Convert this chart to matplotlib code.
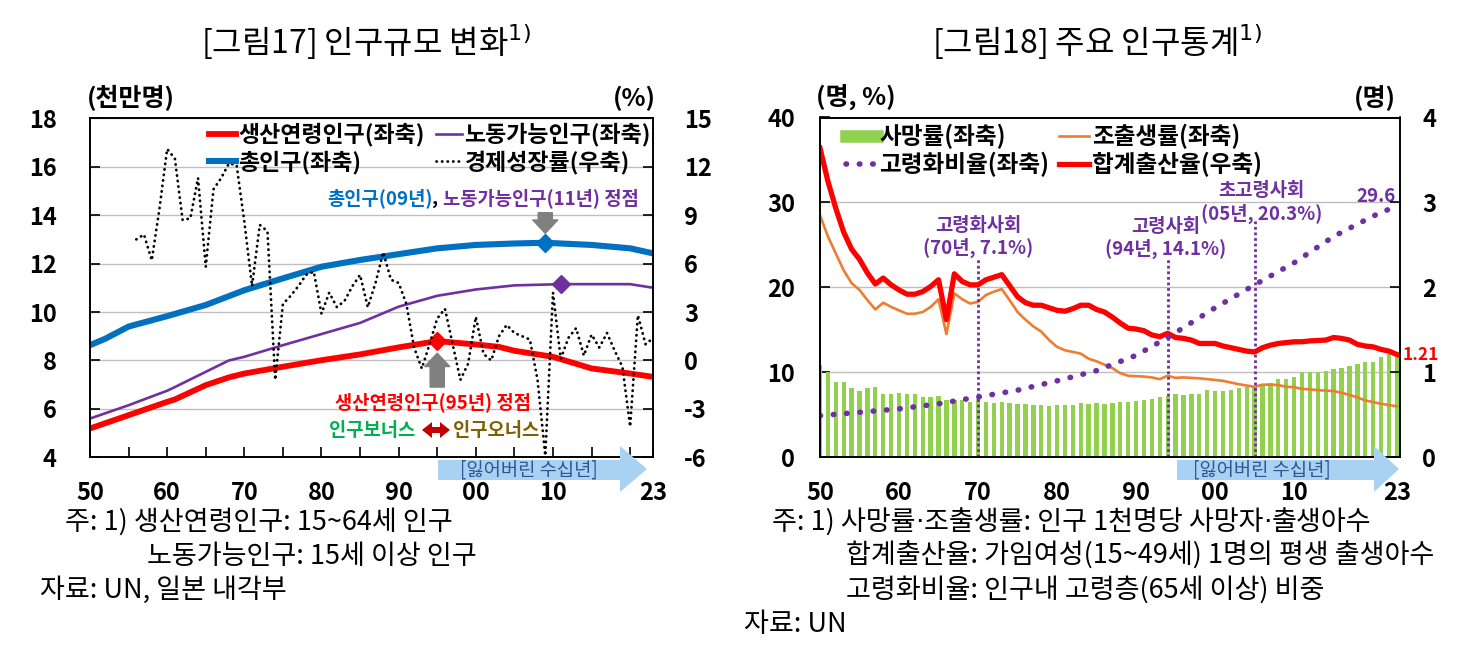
import numpy as np
import matplotlib
matplotlib.use("Agg")
import matplotlib.pyplot as plt
from matplotlib.lines import Line2D
from matplotlib.patches import Polygon

plt.rcParams['font.family'] = ['Noto Sans CJK KR', 'DejaVu Sans']
plt.rcParams['axes.unicode_minus'] = False

# ---------------- [그림17] 인구규모 변화 ----------------
total_years = [1950, 1952, 1955, 1960, 1965, 1970, 1975, 1980, 1985, 1990, 1995, 2000, 2005, 2009, 2015, 2020, 2023]
total_pop = [8.63, 8.9, 9.4, 9.83, 10.29, 10.9, 11.39, 11.87, 12.15, 12.39, 12.63, 12.77, 12.83, 12.86, 12.77, 12.63, 12.42]

labor_years = [1950, 1955, 1960, 1961, 1965, 1968, 1970, 1975, 1980, 1985, 1990, 1995, 2000, 2005, 2011, 2015, 2020, 2023]
labor_pop = [5.6, 6.15, 6.75, 6.9, 7.53, 8.0, 8.15, 8.63, 9.09, 9.55, 10.22, 10.67, 10.93, 11.1, 11.15, 11.15, 11.15, 11.0]

work_years = [1950, 1955, 1960, 1961, 1965, 1968, 1970, 1975, 1980, 1985, 1990, 1995, 2000, 2003, 2005, 2010, 2015, 2020, 2023]
work_pop = [5.19, 5.74, 6.29, 6.39, 6.98, 7.3, 7.46, 7.74, 8.01, 8.25, 8.54, 8.8, 8.66, 8.56, 8.4, 8.15, 7.67, 7.46, 7.32]

gdp_years = list(range(1956, 2024))
gdp_growth = [7.5, 7.8, 6.2, 9.4, 13.1, 12.5, 8.7, 8.8, 11.3, 5.8,
              10.6, 11.3, 12.2, 12.1, 8.6, 4.6, 8.4, 8.0, -1.2, 3.5,
              4.0, 4.6, 5.3, 5.5, 2.9, 4.2, 3.3, 3.7, 4.6, 5.3,
              3.3, 4.8, 6.7, 5.0, 4.8, 3.5, 0.8, -0.5, 1.0, 2.6,
              3.2, 1.0, -1.2, -0.2, 2.7, 0.4, 0.0, 1.5, 2.2, 1.7,
              1.5, 1.3, -1.2, -5.9, 4.2, 0.1, 1.4, 2.0, 0.3, 1.6,
              0.8, 1.7, 0.6, -0.4, -4.1, 2.8, 1.0, 1.4]

# ---------------- [그림18] 주요 인구통계 ----------------
years = list(range(1950, 2024))
death_rate = [10.9, 10.0, 8.9, 8.9, 8.2, 7.8, 8.1, 8.3, 7.5, 7.5,
              7.6, 7.5, 7.5, 7.05, 7.05, 7.2, 6.7, 6.8, 6.8, 6.5,
              6.9, 6.55, 6.4, 6.5, 6.4, 6.3, 6.3, 6.1, 6.1, 6.0,
              6.2, 6.15, 6.1, 6.35, 6.3, 6.35, 6.3, 6.35, 6.5, 6.5,
              6.6, 6.7, 6.9, 7.1, 7.2, 7.4, 7.3, 7.4, 7.5, 7.9,
              7.85, 7.85, 7.9, 8.1, 8.25, 8.4, 8.6, 8.8, 9.2, 9.2,
              9.5, 10.0, 10.0, 10.1, 10.2, 10.4, 10.5, 10.8, 11.0, 11.2,
              11.2, 11.8, 12.2, 12.4]
birth_rate = [28.5, 26.0, 24.0, 22.0, 20.5, 19.7, 18.5, 17.4, 18.2, 17.7,
              17.3, 16.9, 16.9, 17.1, 17.7, 18.6, 14.5, 19.3, 18.6, 18.1,
              18.3, 19.1, 19.5, 19.8, 18.5, 17.1, 16.2, 15.4, 14.8, 13.8,
              13.0, 12.6, 12.4, 12.2, 11.6, 11.3, 10.9, 10.5, 9.9, 9.6,
              9.55, 9.5, 9.4, 9.2, 9.6, 9.35, 9.4, 9.35, 9.3, 9.2,
              9.1, 9.0, 8.8, 8.6, 8.45, 8.3, 8.55, 8.55, 8.5, 8.3,
              8.25, 8.05, 8.0, 7.9, 7.85, 7.8, 7.6, 7.35, 7.05, 6.7,
              6.5, 6.3, 6.15, 6.0]
tfr = [3.64, 3.25, 2.93, 2.65, 2.45, 2.33, 2.17, 2.04, 2.11, 2.03,
       1.97, 1.92, 1.92, 1.95, 2.01, 2.09, 1.62, 2.16, 2.07, 2.03,
       2.03, 2.09, 2.12, 2.15, 2.02, 1.89, 1.82, 1.79, 1.79, 1.76,
       1.73, 1.72, 1.75, 1.79, 1.79, 1.74, 1.71, 1.65, 1.58, 1.52,
       1.51, 1.49, 1.44, 1.42, 1.46, 1.41, 1.40, 1.38, 1.34, 1.34,
       1.34, 1.31, 1.29, 1.27, 1.25, 1.24, 1.29, 1.32, 1.34, 1.35,
       1.36, 1.36, 1.37, 1.375, 1.38, 1.41, 1.40, 1.38, 1.33, 1.31,
       1.30, 1.27, 1.25, 1.21]
aging_years = [1950, 1955, 1960, 1965, 1970, 1975, 1980, 1985, 1990, 1994, 2000, 2005, 2010, 2015, 2020, 2023]
aging_ratio = [4.9, 5.3, 5.7, 6.3, 7.1, 7.9, 9.0, 10.2, 12.0, 14.1, 17.6, 20.3, 22.9, 26.0, 28.4, 29.6]

xtick_years = [1950, 1960, 1970, 1980, 1990, 2000, 2010, 2023]
xtick_labels = ['50', '60', '70', '80', '90', '00', '10', '23']

RED = '#ff0000'
BLUE = '#0070c0'
PURPLE = '#7030a0'
ORANGE = '#ed7d31'
GREEN = '#92d050'
GRID = '#bfbfbf'
ARROW_BLUE = '#a9d1f1'

W, H = 1471, 666


def fx(x):
    return x / W


def fy(y):
    return 1 - y / H


def px_poly(pts, color):
    return Polygon([(fx(px), fy(py)) for px, py in pts], closed=True,
                   transform=fig.transFigure, facecolor=color, edgecolor='none', zorder=5)


def chain_text(ax, x, y, parts, **kw):
    # first piece at pixel position, following pieces glued to the right
    t = fig.text(fx(x), fy(y), parts[0][0], va='center', **parts[0][1], **kw)
    for s, extra in parts[1:]:
        t = ax.annotate(s, xy=(1, 0), xycoords=t, va='bottom', annotation_clip=False,
                        **extra, **kw)
    return t


def style_axes(ax, ax_r):
    ax.set_xticks(xtick_years)
    ax.set_xticklabels(xtick_labels)
    ax.set_xticks([y for y in range(1955, 2023, 5) if y not in xtick_years], minor=True)
    ax.tick_params(axis='x', which='both', direction='in', length=7, width=1.2, pad=17,
                   labelsize=17, top=False)
    ax.tick_params(axis='y', direction='in', length=7, width=1.2, labelsize=17)
    ax_r.tick_params(axis='y', direction='in', length=7, width=1.2, labelsize=17)
    for a in (ax, ax_r):
        for lab in a.get_xticklabels() + a.get_yticklabels():
            lab.set_fontweight('bold')
        for sp in a.spines.values():
            sp.set_linewidth(1.2)
    ax.grid(axis='y', color=GRID, lw=1)
    ax.set_axisbelow(True)


fig = plt.figure(figsize=(14.71, 6.66), dpi=100)

# ======== left chart ========
ax1 = fig.add_axes([fx(90), fy(457.3), (653.3 - 90) / W, (457.3 - 118.3) / H])
ax1r = ax1.twinx()

ax1.plot(work_years, work_pop, color=RED, lw=4.2, solid_capstyle='butt')
ax1.plot(labor_years, labor_pop, color=PURPLE, lw=1.9)
ax1.plot(total_years, total_pop, color=BLUE, lw=4.4, solid_capstyle='butt')
ax1r.plot(gdp_years, gdp_growth, color='black', lw=2.0,
          linestyle=(0, (0.1, 1.9)), dash_capstyle='round')

i_t = int(np.argmax(total_pop))
i_l = int(np.argmax(labor_pop))
i_w = int(np.argmax(work_pop))
ax1.plot(total_years[i_t], total_pop[i_t], marker='D', ms=9, color=BLUE)
ax1.plot(labor_years[i_l], labor_pop[i_l], marker='D', ms=9, color=PURPLE)
ax1.plot(work_years[i_w], work_pop[i_w], marker='D', ms=9, color=RED)

ax1.set_xlim(1950, 2023)
ax1.set_ylim(4, 18)
ax1.set_yticks(range(4, 19, 2))
ax1r.set_ylim(-6, 15)
ax1r.set_yticks(range(-6, 16, 3))
style_axes(ax1, ax1r)
ax1.tick_params(axis='y', pad=24)
ax1r.tick_params(axis='y', pad=22)

arrow_gray = dict(arrowstyle='simple,head_length=0.8,head_width=1.5,tail_width=0.85',
                  color='#808080', shrinkA=0, shrinkB=0, mutation_scale=12)
ax1.annotate('', xy=(total_years[i_t], 13.25), xytext=(total_years[i_t], 14.1), arrowprops=arrow_gray)
ax1.annotate('', xy=(work_years[i_w], 8.3), xytext=(work_years[i_w], 6.9), arrowprops=arrow_gray)

bold = dict(fontsize=13.5, fontweight='bold')
chain_text(ax1, 327, 198, [('총인구(09년)', dict(color=BLUE)),
                           (', ', dict(color='black')),
                           ('노동가능인구(11년) 정점', dict(color=PURPLE))], **bold)

ax1.text(1994.4, 6.28, '생산연령인구(95년) 정점', color=RED, ha='center', va='center', **bold)
ax1.text(1992.2, 5.12, '인구보너스', color='#00b050', ha='right', va='center', **bold)
ax1.text(1997.0, 5.12, '인구오너스', color='#7f6000', ha='left', va='center', **bold)
# double-headed block arrow between the two words
fig.add_artist(px_poly([(422, 430), (432, 422), (432, 427), (440, 427), (440, 422),
                        (450, 430), (440, 438), (440, 433), (432, 433), (432, 438)],
                       '#c00000'))

h_left = [Line2D([], [], color=RED, lw=4.2),
          Line2D([], [], color=BLUE, lw=4.4),
          Line2D([], [], color=PURPLE, lw=1.9),
          Line2D([], [], color='black', lw=2.0, linestyle=(0, (0.1, 1.9)), dash_capstyle='round')]
l_left = ['생산연령인구(좌축)', '총인구(좌축)', '노동가능인구(좌축)', '경제성장률(우축)']
ax1r.legend(h_left, l_left, ncol=2, loc='upper right', frameon=False,
            bbox_to_anchor=(fx(651), fy(123)), bbox_transform=fig.transFigure,
            borderaxespad=0, borderpad=0, handlelength=1.15, handletextpad=0.1,
            columnspacing=0.5, labelspacing=0.15,
            prop={'size': 16.5, 'weight': 'bold'})

fig.text(fx(87), fy(98), '(천만명)', fontsize=18, fontweight='bold', va='center', ha='left')
fig.text(fx(656), fy(98), '(%)', fontsize=18, fontweight='bold', va='center', ha='right')
fig.text(fx(366), fy(42), '[그림17] 인구규모 변화$^{1)}$', fontsize=23, ha='center', va='center')

# ======== right chart ========
ax2 = fig.add_axes([fx(820), fy(457.3), (1400 - 820) / W, (457.3 - 117.5) / H])
ax2r = ax2.twinx()

ax2.bar(years, death_rate, width=0.55, color=GREEN, zorder=2)
ax2.plot(years, birth_rate, color=ORANGE, lw=1.9, zorder=3)
for ev_year, ev_top in zip([1970, 1994, 2005], [23.4, 23.4, 27.9]):
    ax2.plot([ev_year, ev_year], [0, ev_top], color=PURPLE, lw=2,
             linestyle=(0, (1, 1)), zorder=4)
ax2r.plot(years, tfr, color=RED, lw=3.8)
ax2r.plot(aging_years, aging_ratio, color=PURPLE, lw=4.0, transform=ax2.transData,
          linestyle=(0, (0.1, 2.3)), dash_capstyle='round')

ax2.set_xlim(1950, 2023.4)
ax2.set_ylim(0, 40)
ax2.set_yticks(range(0, 41, 10))
ax2r.set_ylim(0, 4)
ax2r.set_yticks(range(0, 5))
style_axes(ax2, ax2r)
ax2.tick_params(axis='y', pad=18)
ax2r.tick_params(axis='y', pad=16)

ann = dict(color=PURPLE, fontsize=13.5, fontweight='bold', ha='center', va='center',
           linespacing=1.2)
ax2.text(1970, 25.9, '고령화사회\n(70년, 7.1%)', **ann)
ax2.text(1993.7, 25.8, '고령사회\n(94년, 14.1%)', **ann)
ax2.text(2005.9, 30.0, '초고령사회\n(05년, 20.3%)', **ann)
ax2.text(2020.4, 30.7, f'{aging_ratio[-1]:.1f}', color=PURPLE, fontsize=13.5,
         fontweight='bold', ha='center', va='center')
ax2r.text(2023.7, tfr[-1], f'{tfr[-1]:.2f}', color=RED, fontsize=12.5,
          fontweight='bold', ha='left', va='center', clip_on=False)

h_right = [Line2D([], [], color=GREEN, lw=9),
           Line2D([], [], color=PURPLE, lw=4.0, linestyle=(0, (0.1, 2.3)), dash_capstyle='round'),
           Line2D([], [], color=ORANGE, lw=1.9),
           Line2D([], [], color=RED, lw=3.8)]
l_right = ['사망률(좌축)', '고령화비율(좌축)', '조출생률(좌축)', '합계출산율(우축)']
ax2r.legend(h_right, l_right, ncol=2, loc='upper left', frameon=False,
            bbox_to_anchor=(fx(846), fy(124)), bbox_transform=fig.transFigure,
            borderaxespad=0, borderpad=0, handlelength=1.3, handletextpad=0.1,
            columnspacing=0.4, labelspacing=0.1,
            prop={'size': 17, 'weight': 'bold'})

fig.text(fx(816), fy(98), '(명, %)', fontsize=18, fontweight='bold', va='center', ha='left')
fig.text(fx(1396), fy(98), '(명)', fontsize=18, fontweight='bold', va='center', ha='right')
fig.text(fx(1097), fy(42), '[그림18] 주요 인구통계$^{1)}$', fontsize=23, ha='center', va='center')

# ======== "잃어버린 수십년" arrows ========
for x0, xh, xt, xc in [(438, 620, 647, 529), (1177, 1374, 1399, 1262)]:
    fig.add_artist(px_poly([(x0, 460), (xh, 460), (xh, 446), (xt, 469), (xh, 492),
                            (xh, 480), (x0, 480)], ARROW_BLUE))
    fig.text(fx(xc), fy(470), '[잃어버린 수십년]', color='#2f5597', fontsize=13.5,
             ha='center', va='center', zorder=6)

# ======== notes ========
note = dict(fontsize=19.5)
dot = dict(family='DejaVu Sans')
fig.text(fx(65), fy(522), '주: 1) 생산연령인구: 15~64세 인구', va='center', **note)
fig.text(fx(147), fy(556), '노동가능인구: 15세 이상 인구', va='center', **note)
fig.text(fx(40), fy(590), '자료: UN, 일본 내각부', va='center', **note)
chain_text(ax2, 772, 522, [('주: 1) 사망률', {}), ('·', dot),
                           ('조출생률: 인구 1천명당 사망자', {}), ('·', dot),
                           ('출생아수', {})], **note)
fig.text(fx(846), fy(556), '합계출산율: 가임여성(15~49세) 1명의 평생 출생아수', va='center', **note)
fig.text(fx(846), fy(590), '고령화비율: 인구내 고령층(65세 이상) 비중', va='center', **note)
fig.text(fx(744), fy(624), '자료: UN', va='center', **note)

fig.savefig('out.png', dpi=100)
